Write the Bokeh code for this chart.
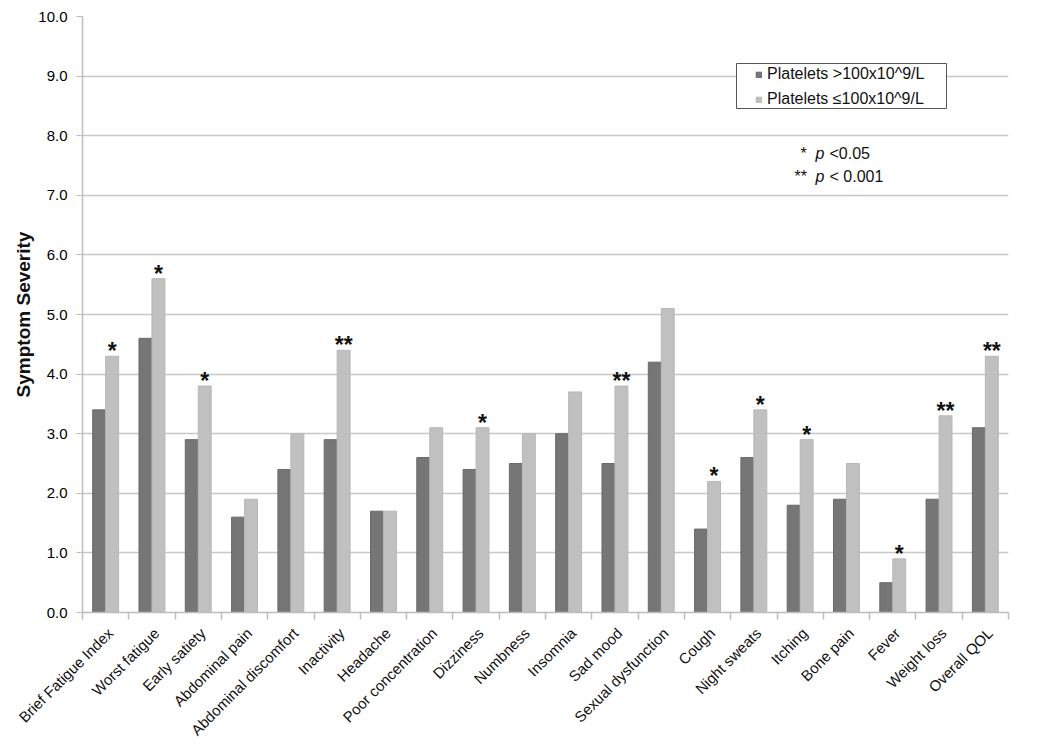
import math
from bokeh.plotting import figure
from bokeh.models import (ColumnDataSource, Range1d, FixedTicker, Legend, LegendItem, Label,
                          BoxAnnotation)
from bokeh.core.properties import value
from bokeh.embed import file_html
from bokeh.resources import INLINE

categories = ["Brief Fatigue Index", "Worst fatigue", "Early satiety", "Abdominal pain",
              "Abdominal discomfort", "Inactivity", "Headache", "Poor concentration",
              "Dizziness", "Numbness", "Insomnia", "Sad mood", "Sexual dysfunction",
              "Cough", "Night sweats", "Itching", "Bone pain", "Fever", "Weight loss",
              "Overall QOL"]
high_plt = [3.4, 4.6, 2.9, 1.6, 2.4, 2.9, 1.7, 2.6, 2.4, 2.5, 3.0, 2.5, 4.2, 1.4, 2.6, 1.8, 1.9, 0.5, 1.9, 3.1]
low_plt = [4.3, 5.6, 3.8, 1.9, 3.0, 4.4, 1.7, 3.1, 3.1, 3.0, 3.7, 3.8, 5.1, 2.2, 3.4, 2.9, 2.5, 0.9, 3.3, 4.3]
signif = ["*", "*", "*", "", "", "**", "", "", "*", "", "", "**", "", "*", "*", "*", "", "*", "**", "**"]
y_ticks = [0, 1, 2, 3, 4, 5, 6, 7, 8, 9, 10]

FONT = "Liberation Sans"
n = len(categories)
centers = [i + 0.5 for i in range(n)]
label_pos = [c + 0.1 for c in centers]
bw = 0.28

src = ColumnDataSource(dict(
    xd=[c - bw / 2 for c in centers],
    xl=[c + bw / 2 for c in centers],
    high=high_plt, low=low_plt, sig=signif,
))

p = figure(width=1034, height=747, output_backend="svg", toolbar_location=None,
           x_range=Range1d(0, n), y_range=Range1d(0, 10),
           min_border_left=82, min_border_right=26, min_border_top=16, min_border_bottom=135)
p.outline_line_color = None
p.background_fill_color = "white"
p.border_fill_color = "white"

# grid
p.xgrid.grid_line_color = None
p.ygrid.grid_line_color = "#c8c8c8"
p.ygrid.grid_line_width = 1.5
p.ygrid.ticker = FixedTicker(ticks=y_ticks)

# y axis
p.yaxis.ticker = FixedTicker(ticks=y_ticks)
p.yaxis.major_label_overrides = {t: f"{t:.1f}" for t in y_ticks}
p.yaxis.axis_line_color = "#bdbdbd"
p.yaxis.axis_line_width = 1.5
p.yaxis.major_tick_line_color = "#bdbdbd"
p.yaxis.major_tick_out = 6
p.yaxis.major_tick_in = 0
p.yaxis.minor_tick_line_color = None
p.yaxis.major_label_text_font = FONT
p.yaxis.major_label_text_font_size = "15px"
p.yaxis.major_label_text_color = "#000000"
p.yaxis.major_label_standoff = 9
p.yaxis.axis_label = "Symptom Severity"
p.yaxis.axis_label_text_font = FONT
p.yaxis.axis_label_text_font_size = "19px"
p.yaxis.axis_label_text_font_style = "bold"
p.yaxis.axis_label_text_color = "#111111"
p.yaxis.axis_label_standoff = 1

# x axis: labels near group centres, ticks at group boundaries
p.xaxis.ticker = FixedTicker(ticks=label_pos, minor_ticks=list(range(n + 1)))
p.xaxis.major_label_overrides = {c: lab for c, lab in zip(label_pos, categories)}
p.xaxis.major_label_orientation = math.pi / 4
p.xaxis.major_tick_line_color = None
p.xaxis.major_tick_out = 0
p.xaxis.major_tick_in = 0
p.xaxis.minor_tick_line_color = "#bdbdbd"
p.xaxis.minor_tick_line_width = 1.5
p.xaxis.minor_tick_out = 7
p.xaxis.minor_tick_in = 0
p.xaxis.axis_line_color = "#bdbdbd"
p.xaxis.axis_line_width = 1.5
p.xaxis.major_label_text_font = FONT
p.xaxis.major_label_text_font_size = "15px"
p.xaxis.major_label_text_color = "#111111"
p.xaxis.major_label_standoff = 11

r1 = p.vbar(x="xd", top="high", width=bw, bottom=0, source=src,
            fill_color="#767676", line_color="#6a6a6a", line_width=1)
r2 = p.vbar(x="xl", top="low", width=bw, bottom=0, source=src,
            fill_color="#c0c0c0", line_color="#b8b8b8", line_width=1)

p.text(x="xl", y="low", text="sig", source=src, text_align="center",
       text_baseline="bottom", text_font=value(FONT), text_font_size="23px",
       text_font_style="bold", text_color="#111111", y_offset=8)

# legend frame
box = BoxAnnotation(left=654, right=864, top=549, bottom=504,
                    left_units="screen", right_units="screen",
                    top_units="screen", bottom_units="screen",
                    fill_color="white", fill_alpha=1.0,
                    line_color="#555555", line_width=1, line_alpha=1.0)
p.add_layout(box)

legend = Legend(items=[LegendItem(label="Platelets >100x10^9/L", renderers=[r1]),
                       LegendItem(label="Platelets \u2264100x10^9/L", renderers=[r2])],
                location=(673, 504))
legend.label_text_font = FONT
legend.label_text_font_size = "16px"
legend.label_text_color = "#111111"
legend.glyph_width = 7
legend.glyph_height = 7
legend.label_height = 16
legend.spacing = 7
legend.padding = 3
legend.margin = 0
legend.label_standoff = 5
legend.border_line_color = None
legend.background_fill_alpha = 0.0
p.add_layout(legend, "center")

def lab(x, y, t, italic=False):
    p.add_layout(Label(x=x, y=y, x_units="screen", y_units="screen", text=t,
                       text_font=FONT, text_font_size="16px", text_color="#111111",
                       text_baseline="middle", text_align="left",
                       text_font_style="italic" if italic else "normal"))

lab(718, 459, "*")
lab(733, 459, "p", True)
lab(747, 459, "<0.05")
lab(712, 436, "**")
lab(733, 436, "p", True)
lab(747, 436, "< 0.001")

open("out.html", "w").write(file_html(p, INLINE))
